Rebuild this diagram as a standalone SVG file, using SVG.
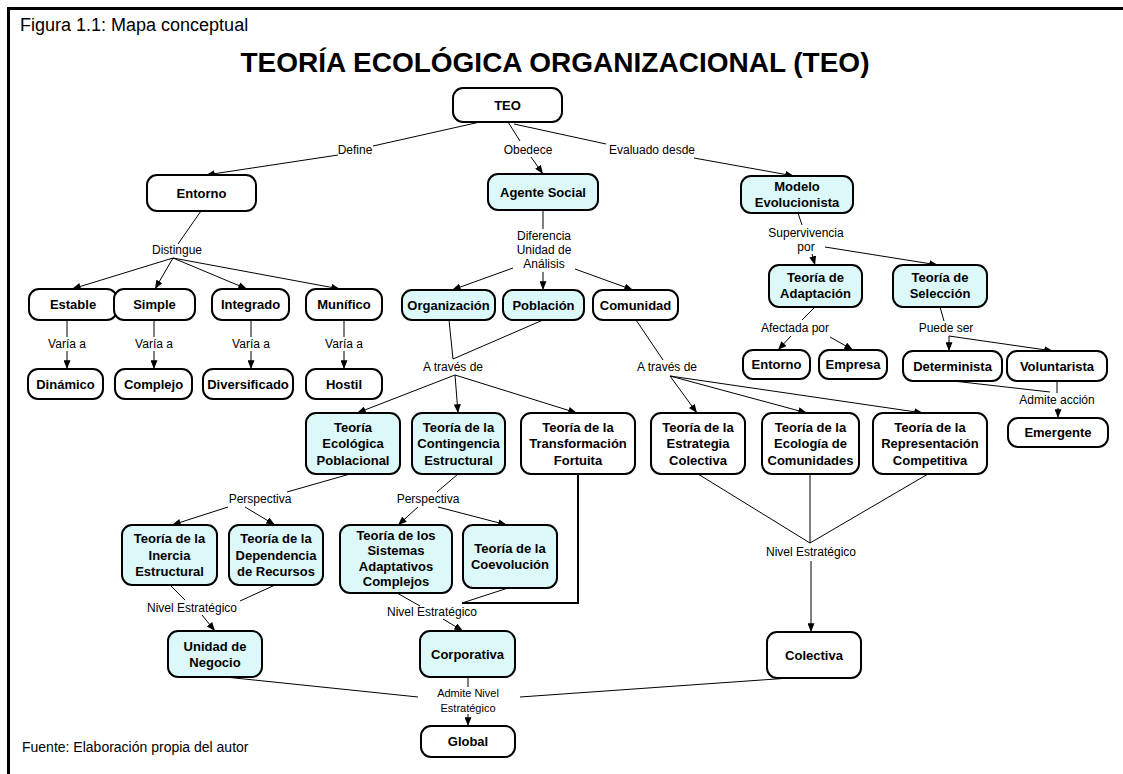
<svg xmlns="http://www.w3.org/2000/svg" width="1123" height="774" viewBox="0 0 1123 774">
<defs>
<style>
.b{stroke:#000;stroke-width:2}
.w{fill:#fff}
.c{fill:#dcf8f8}
text{font-family:"Liberation Sans",Arial,sans-serif;text-anchor:middle;fill:#000}
.nt{font-weight:bold;font-size:13px}
.lt{font-size:12px}
.e path{stroke:#000;stroke-width:1;fill:none}
.e path.a{marker-end:url(#ar)}
</style>
<marker id="ar" viewBox="0 0 10 8" refX="10" refY="4" markerWidth="9" markerHeight="7" markerUnits="userSpaceOnUse" orient="auto">
<path d="M0,0 L10,4 L0,8 Z" fill="#000"/>
</marker>
</defs>
<rect x="0" y="0" width="1123" height="774" fill="#fff"/>
<g id="frame">
<line x1="7" y1="8.5" x2="1123" y2="8.5" stroke="#000" stroke-width="3"/>
<line x1="8.5" y1="7" x2="8.5" y2="774" stroke="#000" stroke-width="3"/>
</g>
<g id="titles">
<text x="20" y="31" style="text-anchor:start;font-size:18px">Figura 1.1: Mapa conceptual</text>
<text x="555" y="72" style="font-size:28px;font-weight:bold">TEORÍA ECOLÓGICA ORGANIZACIONAL (TEO)</text>
<text x="22" y="752" style="text-anchor:start;font-size:14px">Fuente: Elaboración propia del autor</text>
</g>
<g id="connectors" class="e">
<path d="M480,122 L373,146"/><path class="a" d="M338,155 L206,175"/>
<path d="M508,122 L520,141"/><path class="a" d="M531,157 L543,174"/>
<path d="M514,124 L606,144"/><path class="a" d="M694,158 L794,176"/>
<path d="M201,211 L178,244"/>
<path class="a" d="M173,258 L72,289"/><path class="a" d="M173,258 L155,289"/><path class="a" d="M173,258 L247,289"/><path class="a" d="M173,258 L340,289"/>
<path d="M67,320 L67,337"/><path class="a" d="M67,351 L67,369"/>
<path d="M154,320 L154,337"/><path class="a" d="M154,351 L154,369"/>
<path d="M251,320 L251,337"/><path class="a" d="M251,351 L251,369"/>
<path d="M344,320 L344,337"/><path class="a" d="M344,351 L344,369"/>
<path d="M543,210 L543,229"/>
<path class="a" d="M513,268 L452,290"/><path class="a" d="M543,272 L543,290"/><path class="a" d="M575,269 L633,290"/>
<path d="M798,213 L802,225"/>
<path class="a" d="M812,254 L815,265"/><path class="a" d="M825,247 L938,265"/>
<path d="M815,307 L802,320"/>
<path class="a" d="M791,336 L778,350"/><path class="a" d="M830,337 L853,350"/>
<path d="M940,307 L944,321"/>
<path class="a" d="M949,336 L949,351"/><path class="a" d="M949,336 L1053,351"/>
<path d="M953,381 L1050,392"/><path d="M1057,381 L1057,393"/>
<path class="a" d="M1058,408 L1058,418"/>
<path d="M449,320 L453,359"/><path d="M543,320 L453,359"/>
<path class="a" d="M455,375 L357,413"/><path class="a" d="M455,375 L458,413"/><path class="a" d="M455,375 L577,413"/>
<path d="M636,320 L663,360"/>
<path class="a" d="M670,376 L697,413"/><path class="a" d="M670,376 L807,413"/><path class="a" d="M670,376 L923,413"/>
<path d="M350,474 L287,492"/>
<path class="a" d="M228,507 L172,525"/><path class="a" d="M245,507 L275,525"/>
<path d="M458,474 L437,492"/>
<path class="a" d="M418,507 L398,525"/><path class="a" d="M438,507 L507,525"/>
<path d="M170,585 L185,600"/><path d="M275,585 L240,601"/>
<path class="a" d="M202,615 L215,631"/>
<path d="M397,593 L420,606"/><path d="M508,588 L462,603"/>
<path d="M578,474 L578,603 L462,603" style="stroke-width:2"/>
<path class="a" d="M443,619 L463,631"/>
<path d="M698,474 L810,543"/><path d="M810,474 L810,543"/><path d="M928,474 L810,543"/>
<path class="a" d="M811,561 L811,632"/>
<path d="M225,677 L418,697"/><path d="M790,678 L520,697"/><path d="M468,677 L468,687"/>
<path class="a" d="M468,714 L468,726"/>
</g>
<g id="labels" class="lt">
<text x="355" y="154">Define</text>
<text x="528" y="154">Obedece</text>
<text x="652" y="154">Evaluado desde</text>
<text x="177" y="254">Distingue</text>
<text x="544" y="240">Diferencia</text><text x="544" y="254">Unidad de</text><text x="544" y="268">Análisis</text>
<text x="806" y="237">Supervivencia</text><text x="806" y="251">por</text>
<text x="67" y="348">Varía a</text><text x="154" y="348">Varía a</text><text x="251" y="348">Varía a</text><text x="344" y="348">Varía a</text>
<text x="453" y="371">A través de</text>
<text x="667" y="371">A través de</text>
<text x="795" y="332">Afectada por</text>
<text x="946" y="332">Puede ser</text>
<text x="1057" y="404">Admite acción</text>
<text x="260" y="503">Perspectiva</text>
<text x="428" y="503">Perspectiva</text>
<text x="192" y="612">Nivel Estratégico</text>
<text x="432" y="616">Nivel Estratégico</text>
<text x="811" y="556">Nivel Estratégico</text>
<text x="468" y="697" style="font-size:11px">Admite Nivel</text><text x="468" y="712" style="font-size:11px">Estratégico</text>
</g>
<g id="n-teo" class="nt"><rect class="b w" x="453" y="88" width="109" height="34" rx="10"/><text x="507.5" y="109.5">TEO</text></g>
<g id="n-entorno" class="nt"><rect class="b w" x="147" y="175" width="109" height="36" rx="10"/><text x="201.5" y="197.5">Entorno</text></g>
<g id="n-agente" class="nt"><rect class="b c" x="488" y="174" width="110" height="36" rx="10"/><text x="543" y="196.5">Agente Social</text></g>
<g id="n-modelo" class="nt"><rect class="b c" x="741" y="176" width="112" height="37" rx="10"/><text x="797" y="191">Modelo</text><text x="797" y="207">Evolucionista</text></g>
<g id="n-estable" class="nt"><rect class="b w" x="29" y="289" width="88" height="31" rx="10"/><text x="73" y="309">Estable</text></g>
<g id="n-simple" class="nt"><rect class="b w" x="114" y="289" width="81" height="31" rx="10"/><text x="154.5" y="309">Simple</text></g>
<g id="n-integrado" class="nt"><rect class="b w" x="212" y="289" width="77" height="31" rx="10"/><text x="250.5" y="309">Integrado</text></g>
<g id="n-munifico" class="nt"><rect class="b w" x="306" y="289" width="76" height="31" rx="10"/><text x="344" y="309">Munífico</text></g>
<g id="n-dinamico" class="nt"><rect class="b w" x="28" y="369" width="75" height="30" rx="10"/><text x="65.5" y="388.5">Dinámico</text></g>
<g id="n-complejo" class="nt"><rect class="b w" x="115" y="369" width="77" height="30" rx="10"/><text x="153.5" y="388.5">Complejo</text></g>
<g id="n-diversificado" class="nt"><rect class="b w" x="203" y="369" width="90" height="30" rx="10"/><text x="248" y="388.5">Diversificado</text></g>
<g id="n-hostil" class="nt"><rect class="b w" x="306" y="369" width="76" height="30" rx="10"/><text x="344" y="388.5">Hostil</text></g>
<g id="n-organizacion" class="nt"><rect class="b c" x="402" y="290" width="93" height="30" rx="10"/><text x="448.5" y="309.5">Organización</text></g>
<g id="n-poblacion" class="nt"><rect class="b c" x="503" y="290" width="81" height="30" rx="10"/><text x="543.5" y="309.5">Población</text></g>
<g id="n-comunidad" class="nt"><rect class="b w" x="593" y="290" width="85" height="30" rx="10"/><text x="635.5" y="309.5">Comunidad</text></g>
<g id="n-adaptacion" class="nt"><rect class="b c" x="769" y="265" width="93" height="42" rx="10"/><text x="815.5" y="282">Teoría de</text><text x="815.5" y="298">Adaptación</text></g>
<g id="n-seleccion" class="nt"><rect class="b c" x="893" y="265" width="94" height="42" rx="10"/><text x="940" y="282">Teoría de</text><text x="940" y="298">Selección</text></g>
<g id="n-entorno2" class="nt"><rect class="b w" x="743" y="350" width="67" height="29" rx="10"/><text x="776.5" y="369">Entorno</text></g>
<g id="n-empresa" class="nt"><rect class="b w" x="819" y="350" width="68" height="29" rx="10"/><text x="853" y="369">Empresa</text></g>
<g id="n-determinista" class="nt"><rect class="b w" x="903" y="351" width="99" height="30" rx="10"/><text x="952.5" y="370.5">Determinista</text></g>
<g id="n-voluntarista" class="nt"><rect class="b w" x="1007" y="351" width="100" height="30" rx="10"/><text x="1057" y="370.5">Voluntarista</text></g>
<g id="n-emergente" class="nt"><rect class="b w" x="1008" y="418" width="100" height="29" rx="10"/><text x="1058" y="437">Emergente</text></g>
<g id="n-ecologica" class="nt"><rect class="b c" x="306" y="413" width="94" height="61" rx="10"/><text x="353" y="431.5">Teoría</text><text x="353" y="448">Ecológica</text><text x="353" y="464.5">Poblacional</text></g>
<g id="n-contingencia" class="nt"><rect class="b c" x="412" y="413" width="93" height="61" rx="10"/><text x="458.5" y="431.5">Teoría de la</text><text x="458.5" y="448">Contingencia</text><text x="458.5" y="464.5">Estructural</text></g>
<g id="n-transformacion" class="nt"><rect class="b w" x="521" y="413" width="114" height="61" rx="10"/><text x="578" y="431.5">Teoría de la</text><text x="578" y="448">Transformación</text><text x="578" y="464.5">Fortuita</text></g>
<g id="n-estrategia" class="nt"><rect class="b w" x="651" y="413" width="94" height="61" rx="10"/><text x="698" y="431.5">Teoría de la</text><text x="698" y="448">Estrategia</text><text x="698" y="464.5">Colectiva</text></g>
<g id="n-ecologiacom" class="nt"><rect class="b w" x="762" y="413" width="97" height="61" rx="10"/><text x="810.5" y="431.5">Teoría de la</text><text x="810.5" y="448">Ecología de</text><text x="810.5" y="464.5">Comunidades</text></g>
<g id="n-representacion" class="nt"><rect class="b w" x="873" y="413" width="114" height="61" rx="10"/><text x="930" y="431.5">Teoría de la</text><text x="930" y="448">Representación</text><text x="930" y="464.5">Competitiva</text></g>
<g id="n-inercia" class="nt"><rect class="b c" x="122" y="525" width="95" height="60" rx="10"/><text x="169.5" y="543">Teoría de la</text><text x="169.5" y="559.5">Inercia</text><text x="169.5" y="576">Estructural</text></g>
<g id="n-dependencia" class="nt"><rect class="b c" x="229" y="525" width="94" height="60" rx="10"/><text x="276" y="543">Teoría de la</text><text x="276" y="559.5">Dependencia</text><text x="276" y="576">de Recursos</text></g>
<g id="n-sistemas" class="nt"><rect class="b c" x="340" y="525" width="112" height="68" rx="10"/><text x="396" y="539.5">Teoría de los</text><text x="396" y="555">Sistemas</text><text x="396" y="570.5">Adaptativos</text><text x="396" y="586">Complejos</text></g>
<g id="n-coevolucion" class="nt"><rect class="b c" x="463" y="525" width="94" height="63" rx="10"/><text x="510" y="552.5">Teoría de la</text><text x="510" y="568.5">Coevolución</text></g>
<g id="n-unidad" class="nt"><rect class="b c" x="168" y="631" width="94" height="46" rx="10"/><text x="215" y="650.5">Unidad de</text><text x="215" y="666.5">Negocio</text></g>
<g id="n-corporativa" class="nt"><rect class="b c" x="420" y="631" width="95" height="46" rx="10"/><text x="467.5" y="658.5">Corporativa</text></g>
<g id="n-colectiva" class="nt"><rect class="b w" x="767" y="632" width="94" height="46" rx="10"/><text x="814" y="659.5">Colectiva</text></g>
<g id="n-global" class="nt"><rect class="b w" x="421" y="726" width="94" height="31" rx="10"/><text x="468" y="746">Global</text></g>
</svg>
